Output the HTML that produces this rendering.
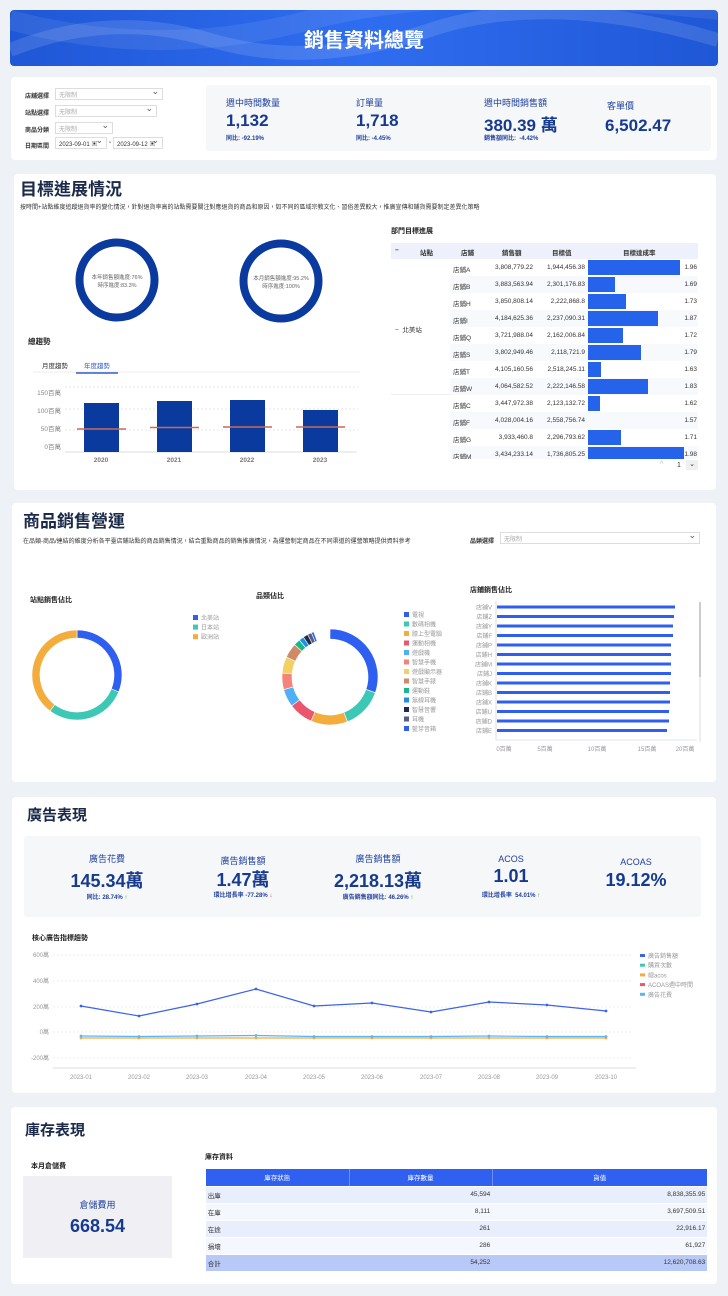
<!DOCTYPE html>
<html><head><meta charset="utf-8"><style>
*{margin:0;padding:0;box-sizing:border-box}
body{width:728px;height:1296px;background:#eef1f6;font-family:"Liberation Sans","Noto Sans CJK TC",sans-serif;position:relative;overflow:hidden;color:#333}
.a{position:absolute;white-space:nowrap}
.p{position:absolute;background:#fff;border-radius:4px}
.t{font-weight:bold;color:#1b2a4a;line-height:1}
.sel{position:absolute;border:1px solid #ddd;background:#fff;font-size:6px;color:#aaa;padding:1px 3px;height:12px}
.sel:after{content:"⌄";position:absolute;right:3px;top:-3px;font-size:9px;color:#555}
.fl{font-size:6px;font-weight:bold;color:#333}
.kl{font-size:9px;color:#1e3f9e}
.kv{font-size:17px;font-weight:bold;color:#163a8e}
.ks{font-size:6px;font-weight:bold;color:#1e3f9e}
table{border-collapse:collapse}
.dt td{font-size:6.5px;height:17px;border-bottom:1px solid #fff;color:#333}
</style></head><body>
<div class="a" style="left:10px;top:10px;width:708px;height:56px;border-radius:4px;background:linear-gradient(90deg,#1f57d6,#2f6df0 50%,#1f57d6);overflow:hidden">
<svg width="708" height="56" style="position:absolute;left:0;top:0"><path d="M0 40 Q100 0 200 30 T420 20 T708 30" stroke="rgba(255,255,255,.12)" stroke-width="14" fill="none"/><path d="M0 10 Q150 50 300 10 T708 0" stroke="rgba(255,255,255,.08)" stroke-width="20" fill="none"/></svg>
<div class="a" style="left:0;width:708px;text-align:center;top:14px;font-size:20px;font-weight:bold;color:#fff">銷售資料總覽</div></div>

<div class="p" style="left:11px;top:77px;width:706px;height:83px"></div>
<div class="a fl" style="left:25px;top:91px">店舖選擇</div><div class="sel" style="left:55px;top:88px;width:108px">无限制</div>
<div class="a fl" style="left:25px;top:108px">站點選擇</div><div class="sel" style="left:55px;top:105px;width:102px">无限制</div>
<div class="a fl" style="left:25px;top:125px">商品分類</div><div class="sel" style="left:55px;top:122px;width:58px">无限制</div>
<div class="a fl" style="left:25px;top:141px">日期區間</div><div class="sel" style="left:55px;top:137px;width:52px;color:#333;font-size:6px">2023-09-01 ▣</div>
<div class="a fl" style="left:109px;top:140px">-</div><div class="sel" style="left:113px;top:137px;width:50px;color:#333">2023-09-12 ▣</div>
<div class="a" style="left:206px;top:85px;width:505px;height:66px;background:#f6f7f9;border-radius:3px"></div>
<div class="a kl" style="left:226px;top:96px">週中時間數量</div><div class="a kv" style="left:226px;top:111px">1,132</div><div class="a ks" style="left:226px;top:133px">同比: -92.19%</div>
<div class="a kl" style="left:356px;top:96px">訂單量</div><div class="a kv" style="left:356px;top:111px">1,718</div><div class="a ks" style="left:356px;top:133px">同比: -4.45%</div>
<div class="a kl" style="left:484px;top:96px">週中時間銷售額</div><div class="a kv" style="left:484px;top:111px">380.39 萬</div><div class="a ks" style="left:484px;top:133px">銷售額同比: &nbsp;-4.42%</div>
<div class="a kl" style="left:607px;top:99px">客單價</div><div class="a kv" style="left:605px;top:116px">6,502.47</div>

<div class="p" style="left:14px;top:174px;width:702px;height:316px"></div>
<div class="a t" style="left:20px;top:181px;font-size:17px">目標進展情況</div>
<div class="a" style="left:20px;top:202px;font-size:6px;color:#333">按時間+站點維度追蹤退貨率的變化情況，針對退貨率高的站點需要關注對應退貨的商品和原因，如不同的區域宗教文化、習俗差異較大，推廣宣傳和鋪貨需要制定差異化策略</div>
<svg class="a" style="left:0;top:0" width="390" height="480">
<circle cx="117" cy="280" r="37.5" fill="none" stroke="#0b3a9e" stroke-width="8"/>
<circle cx="281" cy="281" r="37.5" fill="none" stroke="#0b3a9e" stroke-width="8"/>
<text x="117" y="279" font-size="5.5" fill="#666" text-anchor="middle">本年銷售額進度:76%</text>
<text x="117" y="287" font-size="5.5" fill="#666" text-anchor="middle">時序進度:83.3%</text>
<text x="281" y="280" font-size="5.5" fill="#666" text-anchor="middle">本月銷售額進度:95.2%</text>
<text x="281" y="288" font-size="5.5" fill="#666" text-anchor="middle">時序進度:100%</text>
<line x1="33" y1="372" x2="360" y2="372" stroke="#eee"/>
<line x1="76" y1="373" x2="118" y2="373" stroke="#2f5fd0" stroke-width="1.5"/>
<g stroke="#e6e6e6" stroke-dasharray="2,2"><line x1="65" y1="387" x2="358" y2="387"/><line x1="65" y1="409" x2="358" y2="409"/><line x1="65" y1="430" x2="358" y2="430"/></g>
<line x1="65" y1="452" x2="357" y2="452" stroke="#ddd"/>
<g font-size="6.5" fill="#888" text-anchor="end"><text x="61" y="395">150百萬</text><text x="61" y="413">100百萬</text><text x="61" y="431">50百萬</text><text x="61" y="449">0百萬</text></g>
<g fill="#0b3a9e"><rect x="84" y="403" width="35" height="49"/><rect x="157" y="401" width="35" height="51"/><rect x="230" y="400" width="35" height="52"/><rect x="303" y="410" width="35" height="42"/></g>
<g stroke="#c96a58" stroke-width="1.5"><line x1="77" y1="429" x2="126" y2="429"/><line x1="150" y1="427.5" x2="199" y2="427.5"/><line x1="223" y1="427" x2="272" y2="427"/><line x1="296" y1="427" x2="345" y2="427"/></g>
<g font-size="6.5" fill="#777" text-anchor="middle" font-weight="bold"><text x="101" y="462">2020</text><text x="174" y="462">2021</text><text x="247" y="462">2022</text><text x="320" y="462">2023</text></g>
</svg>
<div class="a t" style="left:28px;top:338px;font-size:7.5px;color:#222">總趨勢</div>
<div class="a" style="left:42px;top:360px;font-size:6.5px">月度趨勢</div>
<div class="a" style="left:84px;top:360px;font-size:6.5px;color:#2f5fd0">年度趨勢</div>

<div class="a t" style="left:391px;top:228px;font-size:7px;color:#222">部門目標進展</div>
<div class="a" style="left:391px;top:243px;width:307px;height:216px;overflow:hidden;font-size:6.5px">
<div class="a" style="left:0;top:0;width:307px;height:16px;background:#eef0fb"></div>
<div class="a" style="left:4px;top:4px;font-weight:bold">−</div>
<div class="a" style="left:29px;top:4px;font-weight:bold">站點</div>
<div class="a" style="left:70px;top:4px;font-weight:bold">店鋪</div>
<div class="a" style="left:111px;top:4px;font-weight:bold">銷售額</div>
<div class="a" style="left:161px;top:4px;font-weight:bold">目標值</div>
<div class="a" style="left:232px;top:4px;font-weight:bold">目標達成率</div>
<div class="a" style="left:0;top:16px;width:59px;height:136px;background:#fff;border-bottom:1px solid #eee"></div>
<div class="a" style="left:4px;top:81px">−&nbsp; 北美站</div>
<div class="a" style="left:59px;top:16px;width:248px;height:204px;background:repeating-linear-gradient(#fff 0 17px,#f8f9fd 17px 34px)"></div>
<div id="rows"></div>
</div>
<div class="a" style="left:660px;top:461px;font-size:7px;color:#bbb">^</div>
<div class="a" style="left:677px;top:462px;font-size:7px">1</div>
<div class="a" style="left:686px;top:460px;width:12px;height:10px;background:#f0f0f0;font-size:7px;text-align:center">⌄</div>

<div class="p" style="left:12px;top:503px;width:704px;height:279px"></div>
<div class="a t" style="left:23px;top:513px;font-size:17px">商品銷售營運</div>
<div class="a" style="left:23px;top:536px;font-size:6px">在品類-商品/連結的維度分析各平臺店鋪站點的商品銷售情況，結合重點商品的銷售推廣情況，為運營制定商品在不同渠道的運營策略提供資料參考</div>
<div class="a fl" style="left:470px;top:536px">品類選擇</div><div class="sel" style="left:500px;top:532px;width:200px">无限制</div>
<div class="a t" style="left:30px;top:597px;font-size:7px;color:#222">站點銷售佔比</div>
<div class="a t" style="left:256px;top:593px;font-size:7px;color:#222">品類佔比</div>
<div class="a t" style="left:470px;top:587px;font-size:7px;color:#222">店鋪銷售佔比</div>
<svg class="a" style="left:0;top:560px" width="728" height="200" id="s3"></svg>

<div class="p" style="left:12px;top:797px;width:704px;height:296px"></div>
<div class="a t" style="left:27px;top:808px;font-size:15px">廣告表現</div>
<div class="a" style="left:24px;top:836px;width:677px;height:81px;background:#f6f7f9;border-radius:3px"></div>
<div class="a kl" style="left:57px;top:852px;width:100px;text-align:center">廣告花費</div>
<div class="a kv" style="left:57px;top:867px;width:100px;text-align:center;font-size:18px">145.34萬</div>
<div class="a ks" style="left:57px;top:892px;width:100px;text-align:center">同比: 28.74% <span style="color:#2a2">↑</span></div>
<div class="a kl" style="left:193px;top:854px;width:100px;text-align:center">廣告銷售額</div>
<div class="a kv" style="left:193px;top:866px;width:100px;text-align:center;font-size:18px">1.47萬</div>
<div class="a ks" style="left:183px;top:890px;width:120px;text-align:center">環比增長率 -77.28% <span style="color:#e33">↓</span></div>
<div class="a kl" style="left:318px;top:852px;width:120px;text-align:center">廣告銷售額</div>
<div class="a kv" style="left:318px;top:867px;width:120px;text-align:center;font-size:18px">2,218.13萬</div>
<div class="a ks" style="left:318px;top:892px;width:120px;text-align:center">廣告銷售額同比: 46.26% <span style="color:#2a2">↑</span></div>
<div class="a kl" style="left:461px;top:854px;width:100px;text-align:center">ACOS</div>
<div class="a kv" style="left:461px;top:866px;width:100px;text-align:center;font-size:18px">1.01</div>
<div class="a ks" style="left:456px;top:890px;width:110px;text-align:center">環比增長率 &nbsp;54.01% <span style="color:#2a2">↑</span></div>
<div class="a kl" style="left:586px;top:857px;width:100px;text-align:center">ACOAS</div>
<div class="a kv" style="left:586px;top:870px;width:100px;text-align:center;font-size:18px">19.12%</div>
<div class="a t" style="left:32px;top:935px;font-size:7px;color:#222">核心廣告指標趨勢</div>
<svg class="a" style="left:0;top:940px" width="728" height="150" id="s4"></svg>

<div class="p" style="left:11px;top:1107px;width:706px;height:177px"></div>
<div class="a t" style="left:25px;top:1123px;font-size:15px">庫存表現</div>
<div class="a t" style="left:31px;top:1163px;font-size:7px;color:#222">本月倉儲費</div>
<div class="a" style="left:23px;top:1176px;width:149px;height:82px;background:#f0f0f4"></div>
<div class="a kl" style="left:23px;top:1198px;width:149px;text-align:center">倉儲費用</div>
<div class="a kv" style="left:23px;top:1216px;width:149px;text-align:center;font-size:18px">668.54</div>
<div class="a t" style="left:205px;top:1154px;font-size:7px;color:#222">庫存資料</div>
<table class="a dt" style="left:206px;top:1169px;width:501px">
<tr style="background:#3060f0;color:#fff"><td style="width:143px;text-align:center;color:#fff;border-right:1px solid #6d8ff5">庫存狀態</td><td style="width:143px;text-align:center;color:#fff;border-right:1px solid #6d8ff5">庫存數量</td><td style="text-align:center;color:#fff">貨值</td></tr>
<tr style="background:#e8eefb"><td>&nbsp;出庫</td><td style="text-align:right">45,594&nbsp;</td><td style="text-align:right">8,838,355.95&nbsp;</td></tr>
<tr style="background:#f4f7fd"><td>&nbsp;在庫</td><td style="text-align:right">8,111&nbsp;</td><td style="text-align:right">3,697,509.51&nbsp;</td></tr>
<tr style="background:#e8eefb"><td>&nbsp;在途</td><td style="text-align:right">261&nbsp;</td><td style="text-align:right">22,916.17&nbsp;</td></tr>
<tr style="background:#f4f7fd"><td>&nbsp;損壞</td><td style="text-align:right">286&nbsp;</td><td style="text-align:right">61,927&nbsp;</td></tr>
<tr style="background:#b8c9f7"><td>&nbsp;合計</td><td style="text-align:right">54,252&nbsp;</td><td style="text-align:right">12,620,708.63&nbsp;</td></tr>
</table>

<script>
var R=[["店鋪A","3,808,779.22","1,944,456.38",92,"1.96"],["店鋪B","3,883,563.94","2,301,176.83",27,"1.69"],["店鋪H","3,850,808.14","2,222,868.8",38,"1.73"],["店鋪I","4,184,625.36","2,237,090.31",70,"1.87"],["店鋪Q","3,721,988.04","2,162,006.84",35,"1.72"],["店鋪S","3,802,949.46","2,118,721.9",53,"1.79"],["店鋪T","4,105,160.56","2,518,245.11",13,"1.63"],["店鋪W","4,064,582.52","2,222,146.58",60,"1.83"],["店鋪C","3,447,972.38","2,123,132.72",12,"1.62"],["店鋪F","4,028,004.16","2,558,756.74",0,"1.57"],["店鋪G","3,933,460.8","2,296,793.62",33,"1.71"],["店鋪M","3,434,233.14","1,736,805.25",96,"1.98"]];
var h="";R.forEach(function(r,i){var y=16+i*17;h+='<div class="a" style="left:62px;top:'+(y+5)+'px">'+r[0]+'</div><div class="a" style="left:96px;width:46px;text-align:right;top:'+(y+5)+'px">'+r[1]+'</div><div class="a" style="left:146px;width:48px;text-align:right;top:'+(y+5)+'px">'+r[2]+'</div><div class="a" style="left:197px;top:'+(y+1)+'px;width:'+r[3]+'px;height:15px;background:#2563eb"></div><div class="a" style="left:280px;width:26px;text-align:right;top:'+(y+5)+'px">'+r[4]+'</div>';});
document.getElementById("rows").innerHTML=h;
function arc(cx,cy,r0,r1,a0,a1,c){var f=function(a,r){a=(a-90)*Math.PI/180;return[cx+r*Math.cos(a),cy+r*Math.sin(a)]};var l=a1-a0>180?1:0,p=f(a0,r1),q=f(a1,r1),s=f(a1,r0),t=f(a0,r0);return'<path d="M'+p+'A'+r1+' '+r1+' 0 '+l+' 1 '+q+'L'+s+'A'+r0+' '+r0+' 0 '+l+' 0 '+t+'Z" fill="'+c+'" stroke="#fff" stroke-width="0.6"/>';}
var s="";
[[0,112,"#2f5ff0"],[112,217,"#3cc8b4"],[217,360,"#f4ac3c"]].forEach(function(a){s+=arc(77,115,37,45,a[0],a[1],a[2])});
var lg=[["北美站","#2f5ff0"],["日本站","#3cc8b4"],["歐洲站","#f4ac3c"]];
lg.forEach(function(l,i){s+='<rect x="193" y="'+(55+i*9.6)+'" width="5" height="5" fill="'+l[1]+'"/><text x="201" y="'+(60+i*9.6)+'" font-size="6" fill="#999">'+l[0]+'</text>'});
var cats=[["電視","#2f5ff0",110],["數碼相機","#3cc8b4",50],["膝上型電腦","#f4ac3c",45],["運動相機","#e9566e",30],["遊戲機","#4fb0f7",22],["智慧手機","#f4837a",20],["遊戲顯示器","#f2d064",20],["智慧手錶","#cf8a68",18],["運動鞋","#17b98a",8],["無線耳機","#1f8fe0",6],["智慧音響","#1e2a50",6],["耳機","#555d80",5],["藍芽音箱","#2f5ff0",3]];
var a=0;cats.forEach(function(c){var e=a+c[2]*360/363;s+=arc(330,117,38,48,a,e,c[1]);a=e});
cats.forEach(function(c,i){s+='<rect x="404" y="'+(52+i*9.5)+'" width="5" height="5" fill="'+c[1]+'"/><text x="412" y="'+(57+i*9.5)+'" font-size="6" fill="#999">'+c[0]+'</text>'});
var st=["V","Z","Y","F","P","H","M","J","K","B","X","U","D","E"],w=[485,484,483,483,481,481,481,481,480,480,480,479,479,477];
for(var i=0;i<14;i++){var y=47+i*9.5;s+='<text x="492" y="'+(y+2.5)+'" font-size="6" fill="#999" text-anchor="end">店鋪'+st[i]+'</text><rect x="497" y="'+(y-1.5)+'" width="'+(w[i]-497+190)+'" height="3" fill="#2f5ff0"/>';}
s+='<line x1="496" y1="41" x2="496" y2="180" stroke="#ddd"/><line x1="496" y1="180" x2="697" y2="180" stroke="#dde6ff"/><rect x="699" y="42" width="2" height="140" fill="#eee"/><rect x="699" y="42" width="2" height="75" fill="#ccc"/>';
[["0百萬",504],["5百萬",545],["10百萬",597],["15百萬",647],["20百萬",685]].forEach(function(t){s+='<text x="'+t[1]+'" y="191" font-size="6" fill="#999" text-anchor="middle">'+t[0]+'</text>'});
document.getElementById("s3").innerHTML=s;
var g="",ys=[15,41,67,92,118],lb=["600萬","400萬","200萬","0萬","-200萬"];
for(i=0;i<5;i++){g+='<text x="49" y="'+(ys[i]+2)+'" font-size="6" fill="#999" text-anchor="end">'+lb[i]+'</text><line x1="53" y1="'+ys[i]+'" x2="632" y2="'+ys[i]+'" stroke="#eee" stroke-dasharray="2,2"/>';}
g+='<line x1="53" y1="128" x2="636" y2="128" stroke="#ddd"/>';
var xs=[81,139,197,256,314,372,431,489,547,606],bv=[66,76,64,49,66,63,72,62,65,71];
function pl(v,c){var p=xs.map(function(x,i){return x+","+v[i]}).join(" ");var r='<polyline points="'+p+'" fill="none" stroke="'+c+'" stroke-width="1.2"/>';xs.forEach(function(x,i){r+='<circle cx="'+x+'" cy="'+v[i]+'" r="1.4" fill="'+c+'"/>'});return r;}
g+=pl(xs.map(function(){return 98}),"#f4ac3c");
g+=pl([96,96.5,96,95.5,96.5,96.5,96.5,96,96.5,96.5],"#5ab4f7");
g+=pl(bv,"#3c63ea");
xs.forEach(function(x,i){g+='<text x="'+x+'" y="139" font-size="6" fill="#999" text-anchor="middle">2023-'+(i<9?"0":"")+(i+1)+'</text>'});
[["廣告銷售額","#3c63ea"],["購買次數","#3cc8b4"],["總acos","#f4ac3c"],["ACOAS週中時間","#e9566e"],["廣告花費","#5ab4f7"]].forEach(function(l,i){g+='<rect x="640" y="'+(14+i*9.7)+'" width="5" height="3" fill="'+l[1]+'"/><text x="648" y="'+(18+i*9.7)+'" font-size="6" fill="#999">'+l[0]+'</text>'});
document.getElementById("s4").innerHTML=g;
</script>
</body></html>
